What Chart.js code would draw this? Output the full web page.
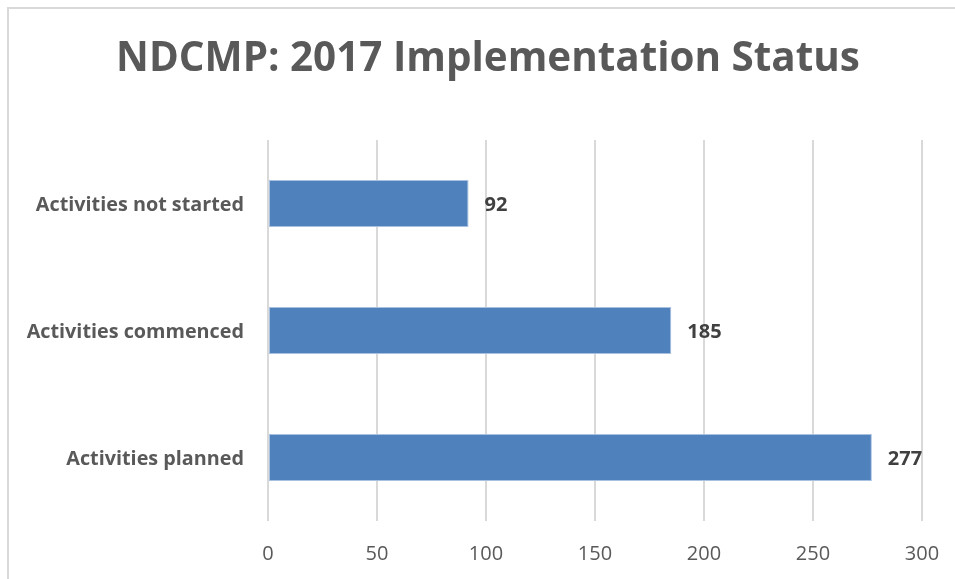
<!DOCTYPE html>
<html>
<head>
<meta charset="utf-8">
<script src="https://cdn.jsdelivr.net/npm/chart.js@4.4.1/dist/chart.umd.min.js"></script>
<style>
  html, body { margin: 0; padding: 0; background: #fff; }
  canvas { display: block; }
</style>
</head>
<body>
<canvas id="chart" width="955" height="579"></canvas>
<script>
const categories = ['Activities not started', 'Activities commenced', 'Activities planned']
const activityCounts = [92, 185, 277]
const tickValues = [0, 50, 100, 150, 200, 250, 300]
const chartTitle = 'NDCMP: 2017 Implementation Status'

const FONT = "'Open Sans', 'DejaVu Sans', sans-serif"

// frame round the chart and the title (the original chart was wider than the crop,
// so the title is centred on the full frame, not on the plot)
const framePlugin = {
  id: 'frame',
  beforeDraw(chart) {
    const ctx = chart.ctx
    ctx.save()
    ctx.strokeStyle = '#d9d9d9'
    ctx.lineWidth = 2
    ctx.strokeRect(8, 8, chart.width + 20, chart.height + 20)
    ctx.font = 'bold 40.4px ' + FONT
    ctx.fillStyle = '#595959'
    ctx.textAlign = 'center'
    ctx.textBaseline = 'middle'
    ctx.fillText(chartTitle, 488, 59)
    ctx.restore()
  }
}

// value labels at the end of each bar
const valueLabels = {
  id: 'valueLabels',
  afterDatasetsDraw(chart) {
    const ctx = chart.ctx
    const meta = chart.getDatasetMeta(0)
    ctx.save()
    ctx.font = 'bold 20px ' + FONT
    ctx.fillStyle = '#404040'
    ctx.textAlign = 'left'
    ctx.textBaseline = 'middle'
    meta.data.forEach((bar, i) => {
      ctx.fillText(String(activityCounts[i]), bar.x + 16, bar.y + 2)
    })
    ctx.restore()
  }
}

new Chart(document.getElementById('chart'), {
  type: 'bar',
  data: {
    labels: categories,
    datasets: [{
      data: activityCounts,
      backgroundColor: '#4f81bd',
      borderColor: '#a9c1e0',
      borderWidth: 1,
      borderSkipped: false,
      categoryPercentage: 1,
      barPercentage: 0.37
    }]
  },
  options: {
    indexAxis: 'y',
    responsive: false,
    animation: false,
    layout: { padding: { top: 140, right: 33, bottom: 0, left: 0 } },
    plugins: {
      legend: { display: false },
      tooltip: { enabled: false },
      title: { display: false }
    },
    scales: {
      x: {
        min: 0,
        max: 300,
        afterBuildTicks(scale) {
          scale.ticks = tickValues.map(v => ({ value: v }))
        },
        afterFit(scale) {
          scale.height = 58
          scale.paddingLeft = 0
          scale.paddingRight = 0
        },
        grid: { color: '#d9d9d9', lineWidth: 2, drawTicks: false },
        border: { display: false },
        ticks: { color: '#595959', padding: 21, font: { family: FONT, size: 20 } }
      },
      y: {
        afterFit(scale) { scale.width = 268 },
        grid: { display: false, drawTicks: false },
        border: { display: false },
        ticks: { color: '#595959', padding: 24, labelOffset: 2, font: { family: FONT, size: 19.8, weight: 'bold' } }
      }
    }
  },
  plugins: [framePlugin, valueLabels]
})
</script>
</body>
</html>
